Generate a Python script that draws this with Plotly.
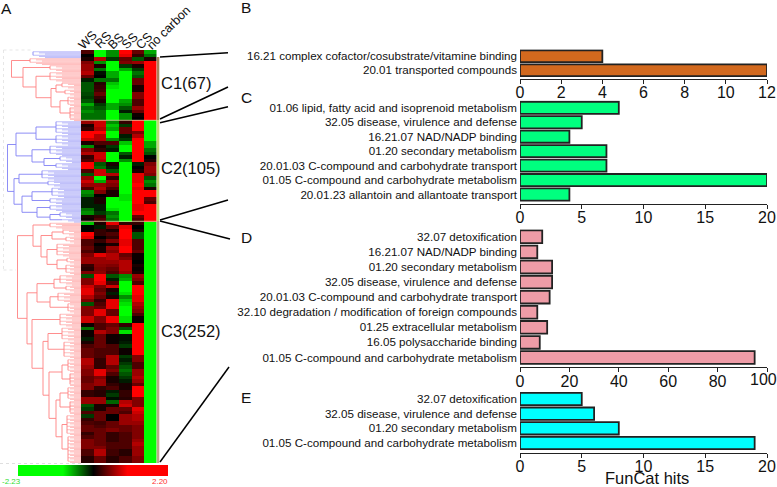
import plotly.graph_objects as go

W, H = 777, 487
FONT = "Liberation Sans"

conditions = ["WS", "RS", "BS", "SS", "CS", "no carbon"]
heat_rows_top = [
    [.3,-1,-.5,1,.4,-.6], [.0,-.9,-.5,.9,.2,-.4],
]
heat_rows_c1 = [
    [.1,.7,-.2,.4,-.3,.1], [.5,-.5,-1,.5,.6,1], [.6,.1,-1,-.2,.1,1], [.6,-.4,-1,-.6,-.2,1],
    [.7,-.05,-.6,-1,-.4,1], [.4,.0,-.6,-1,-.3,1], [-.1,-.4,-.4,-1,.4,1], [-.3,.15,-.7,-1,.4,1],
    [-.3,.2,-.8,-1,.1,1], [-.3,.25,-.9,-.9,.1,1], [-.25,.4,-1,-.9,.5,1], [-.2,.2,-1,-.9,.5,1],
    [-.3,.1,-.9,-.6,.3,1], [-.6,-.2,-.6,-.5,.3,1], [-.4,-.3,-.6,-.3,.6,1], [-.5,-.4,-.9,-.1,.4,1],
    [-.4,-.4,-.9,-.5,.05,1], [-.4,-.4,-.9,-.5,.0,1],
]
heat_rows_c2 = [
    [.6,.8,-.5,.2,1,-1], [.1,.8,-.7,-.2,1,-1], [.2,.7,-.6,.4,1,-1], [1,1,-1,.4,.5,-1],
    [1,.7,-1,-.1,.7,-1], [.8,.7,-.5,-.2,1,-1], [.1,.3,.3,-.7,1,-.6], [-.5,.1,-.2,-.9,1,-.6],
    [.5,.2,-.1,-.9,1,-.4], [.7,.8,-1,-.3,1,-.3], [.2,.8,-1,-.1,1,.0], [.3,.7,-1,-.5,1,.1],
    [1,-.3,.1,-1,-.1,.5], [1,-.4,-.1,-1,.0,.6], [.3,.8,-.3,-1,.1,.6], [-.3,.8,.7,-1,.9,.5],
    [.6,-1,.2,-1,.9,-.3], [.8,-.6,.6,-1,.9,-.5], [.6,.6,.5,-1,1,-.4], [.3,.7,.3,-1,.9,.1],
    [-.5,.5,.1,-1,1,1], [-.4,.0,.1,-.8,1,1], [-.1,.1,-1,-.8,1,.4], [-.1,.1,-1,-1,1,.3],
    [-.1,-.1,-.9,-1,.9,1], [-.4,-.1,-.8,-1,.9,1], [-.5,-.2,-.4,-1,1,1], [.1,.2,-.5,-1,.4,1],
    [.05,.3,-.4,-1,.3,1],
]
heat_rows_c3 = [
    [-.7,.1,.9,.2,.2,-1], [.0,-.1,.4,.9,.0,-1], [.0,.2,.1,1,.1,-1], [1,.2,.3,1,-.3,-1],
    [.9,.0,.2,1,-.3,-1], [.3,.2,.5,.9,.3,-1], [.3,.0,.1,.9,.3,-1], [.4,.1,.6,1,.3,-1],
    [.3,.1,.5,1,.4,-1], [.5,.9,.7,.4,.05,-1], [.6,.6,.7,.5,.05,-1], [.6,.6,.6,.7,.0,-1],
    [.2,.55,.5,.7,.1,-1], [.15,.5,.4,.7,.05,-1], [.5,.55,.3,.6,.1,-1], [-.3,1,-.3,-.5,.6,-1],
    [.5,1,-.1,-.6,.5,-1], [.5,.9,.3,-1,.3,-1], [.8,.5,.8,-1,1,-1], [.9,.4,.1,-.9,1,-1],
    [.9,.5,-.1,-.8,1,-1], [.7,.4,.1,-.5,.9,-1], [.5,.2,.9,-.7,.9,-1], [-.3,.3,.9,-.8,.7,-1],
    [.5,.4,.9,-.9,.6,-1], [.5,.9,.4,-1,.5,-1], [.5,.9,.4,-1,.3,-1], [.8,.5,.95,-.8,.05,-1],
    [.8,.5,.95,-.8,.05,-1], [.05,.3,.4,.2,1,-1], [-.4,.3,.5,-.3,1,-1], [.05,.7,.5,-.8,1,-1],
    [.05,.4,.05,-.05,1,-1], [-.1,.4,.05,-.05,1,-1], [.1,.4,.05,-.1,1,-1], [.3,.4,.3,-.2,1,-1],
    [.4,.3,.3,.05,1,-1], [.4,.3,.3,.05,1,-1], [.4,.3,.7,-.2,.5,-1], [.7,.2,.7,-.1,.5,-1],
    [.7,.2,.7,-.2,.3,-1], [.6,.2,.4,-.3,.3,-1], [.5,.9,.5,-.4,.6,-1], [.5,.9,.3,-.3,.6,-1],
    [.4,.5,.1,-.2,.7,-1], [.4,.6,.1,-.1,.6,-1], [.5,.6,.2,.1,.4,-1], [.5,.2,.3,.1,1,-1],
    [.2,.15,-.1,.2,1,-1], [.2,.15,-.2,.2,1,-1], [.6,.6,-.05,.15,.5,-1], [.6,.6,-.35,.7,.5,-1],
    [-.3,.1,.1,.8,.5,-1], [-.2,.1,.4,.4,.9,-1], [.3,.4,.4,.3,.8,-1], [-.2,.4,.0,.6,.7,-1],
    [.2,.4,.0,.6,.7,-1], [.3,.25,.4,.6,.6,-1], [.4,.3,.4,.4,.5,-1], [.4,.4,.5,.4,.5,-1],
    [.2,.4,.2,.3,.5,-1], [.3,.4,.2,.3,.5,-1], [.5,.4,.2,.3,.6,-1], [.5,.4,.3,.3,.7,-1],
    [.5,.5,.3,.3,.6,-1], [.3,.7,.25,.15,.6,-1], [.3,.7,.25,.15,.6,-1], [.15,.4,.15,.3,.5,-1],
    [.15,.4,.15,.3,.5,-1],
]
heat_rows = heat_rows_top + heat_rows_c1 + heat_rows_c2 + heat_rows_c3
color_min, color_max = -2.23, 2.20
color_sat_green, color_sat_red = -0.9, 1.0

labels_b = ["16.21 complex cofactor/cosubstrate/vitamine binding", "20.01 transported compounds"]
values_b = [4, 12]
labels_c = ["01.06 lipid, fatty acid and isoprenoid metabolism", "32.05 disease, virulence and defense",
            "16.21.07 NAD/NADP binding", "01.20 secondary metabolism",
            "20.01.03 C-compound and carbohydrate transport", "01.05 C-compound and carbohydrate metabolism",
            "20.01.23 allantoin and allantoate transport"]
values_c = [8, 5, 4, 7, 7, 20, 4]
labels_d = ["32.07 detoxification", "16.21.07 NAD/NADP binding", "01.20 secondary metabolism",
            "32.05 disease, virulence and defense", "20.01.03 C-compound and carbohydrate transport",
            "32.10 degradation / modification of foreign compounds", "01.25 extracellular metabolism",
            "16.05 polysaccharide binding", "01.05 C-compound and carbohydrate metabolism"]
values_d = [9, 7, 13, 13, 12, 7, 11, 8, 95]
labels_e = ["32.07 detoxification", "32.05 disease, virulence and defense", "01.20 secondary metabolism",
            "01.05 C-compound and carbohydrate metabolism"]
values_e = [5, 6, 8, 19]


# dendrogram: N(distance, upper, lower) joins two branches, F(distance, first_row, last_row) is a leaf fan
def N(x, a, b): return ("n", x, a, b)
def F(x, r0, r1): return ("f", x, r0, r1)

tree_top = F(33, 0, 1)
tree_c1 = N(11.5, F(30, 2, 3), N(23, F(50, 4, 5), N(36, F(50, 6, 8),
            N(51, N(56, F(62, 9, 10), F(65, 11, 12)), N(60, F(68, 13, 15), F(70, 16, 19))))))
tree_c2 = N(7.5,
            N(16, N(36, F(56, 20, 23), F(56, 24, 26)),
                  N(32, F(50, 27, 29), N(44, F(60, 30, 31), F(56, 32, 33)))),
            N(14, N(19, F(42, 34, 36), F(48, 37, 38)),
                  N(22, N(32, F(52, 39, 41), F(50, 42, 43)),
                        N(37, F(50, 44, 45), N(50, F(60, 46, 47), F(62, 48, 48))))))
tree_c3 = N(17.5,
            N(33, F(50, 49, 50),
                  N(41, N(52, F(63, 51, 52), F(66, 53, 54)),
                        N(47, F(57, 55, 58), N(57, F(67, 59, 60), F(66, 61, 63))))),
            N(27,
              N(37, N(54, F(60, 64, 66), F(66, 67, 68)), N(50, F(58, 69, 71), F(68, 72, 74))),
              N(32, F(60, 75, 78),
                N(43, N(48, F(62, 79, 82), F(64, 83, 87)),
                  N(49, N(62, F(68, 88, 91), F(70, 92, 95)),
                    N(56, N(60, F(68, 96, 99), F(70, 100, 103)),
                      N(62, F(67, 104, 109), F(68, 110, 117))))))))

DENDRO_END = 81
def walk(node, xs, ys, fxs, fys):
    if node[0] == "f":
        _, x, r0, r1 = node
        xs += [x, x, None]; ys += [r0, r1, None]
        r = r0
        while r <= r1:
            fxs += [x, DENDRO_END, None]; fys += [r, r, None]
            fxs += [min(x + 6, 70), DENDRO_END, None]; fys += [r + .33, r + .33, None]
            fxs += [min(x + 12, 74), DENDRO_END, None]; fys += [r + .66, r + .66, None]
            r += 1
        return x, (r0 + r1) / 2
    _, x, a, b = node
    ax, ay = walk(a, xs, ys, fxs, fys)
    bx, by = walk(b, xs, ys, fxs, fys)
    xs += [x, x, None, x, ax, None, x, bx, None]
    ys += [ay, by, None, ay, ay, None, by, by, None]
    return x, (ay + by) / 2


def px_x(a, b): return [a / W, b / W]
def px_y(top, bottom): return [1 - bottom / H, 1 - top / H]

fig = go.Figure()
layout = dict(width=W, height=H, margin=dict(l=0, r=0, t=0, b=0, autoexpand=False), showlegend=False,
              plot_bgcolor="white", paper_bgcolor="white",
              font=dict(family=FONT, color="#111", size=12),
              bargap=0.16)

# heat map
nrows = len(heat_rows)
pos = lambda v: (v - color_min) / (color_max - color_min)
fig.add_trace(go.Heatmap(
    z=heat_rows, x=conditions, y=list(range(nrows)), xaxis="x", yaxis="y",
    zmin=color_min, zmax=color_max, hoverinfo="skip",
    colorscale=[[0, "#00ff00"], [pos(color_sat_green), "#00ff00"], [pos(0), "#000000"],
                [pos(color_sat_red), "#ff0000"], [1, "#ff0000"]],
    colorbar=dict(orientation="h", x=18 / W, xanchor="left", len=150 / W, lenmode="fraction",
                  y=1 - 476 / H, yanchor="bottom", thickness=11, thicknessmode="pixels",
                  outlinewidth=0, showticklabels=False, ticks="", xpad=0, ypad=0)))
layout["xaxis"] = dict(domain=px_x(81, 156.5), showticklabels=False, ticks="", showgrid=False,
                       zeroline=False, anchor="y", showline=False)
layout["yaxis"] = dict(domain=px_y(50, 463), range=[nrows - .5, -.5], showticklabels=False, ticks="",
                       showgrid=False, zeroline=False, anchor="x", showline=False)

# dendrogram
layout["xaxis6"] = dict(domain=px_x(0, 81), range=[0, 81], visible=False, anchor="y6")
layout["yaxis6"] = dict(domain=px_y(50, 463), range=[nrows - .5, -.5], visible=False, anchor="x6")
for trees, col, fan in [([tree_c1, tree_c3], "rgba(255,130,130,0.9)", "rgba(255,90,90,0.4)"),
                        ([tree_top, tree_c2], "rgba(130,130,245,0.9)", "rgba(90,90,240,0.4)")]:
    xs, ys, fxs, fys = [], [], [], []
    for t in trees:
        walk(t, xs, ys, fxs, fys)
    fig.add_trace(go.Scatter(x=fxs, y=fys, xaxis="x6", yaxis="y6", mode="lines",
                             line=dict(color=fan, width=1), hoverinfo="skip"))
    fig.add_trace(go.Scatter(x=xs, y=ys, xaxis="x6", yaxis="y6", mode="lines",
                             line=dict(color=col, width=1), hoverinfo="skip"))

# bar panels
panels = [
    (labels_b, values_b, "#d2691e", "2", 56.3, 70.2, 79, 12, 2),
    (labels_c, values_c, "#00ff7f", "3", 107.8, 194.5, 204, 20, 5),
    (labels_d, values_d, "#ee9ca7", "4", 236.8, 357.5, 367.3, 100, 20),
    (labels_e, values_e, "#00ffff", "5", 399, 443, 452.7, 20, 5),
]
for labs, vals, color, k, c0, c1, axis_y, xmax, dtick in panels:
    pitch = (c1 - c0) / (len(labs) - 1)
    fig.add_trace(go.Bar(x=vals, y=labs, orientation="h", xaxis="x" + k, yaxis="y" + k,
                         marker=dict(color=color, line=dict(color="#222", width=1.8)), hoverinfo="skip"))
    tickvals = list(range(0, xmax + 1, dtick))
    # the last label of panel D would run past the page edge, so it is set right-aligned below
    ticktext = [("" if v >= 100 else str(v)) for v in tickvals]
    layout["xaxis" + k] = dict(domain=px_x(520, 767), range=[0, xmax], tickmode="array", tickvals=tickvals,
                               ticktext=ticktext, anchor="y" + k,
                               showgrid=False, zeroline=False, showline=True, linecolor="#222", linewidth=1.2,
                               ticks="outside", ticklen=4, tickwidth=1.2, tickcolor="#222",
                               ticklabelstandoff=-5, ticklabeloverflow="allow",
                               tickfont=dict(size=16, color="#111"))
    layout["yaxis" + k] = dict(domain=px_y(c0 - pitch / 2, axis_y), anchor="x" + k, type="category",
                               categoryorder="array", categoryarray=labs, dtick=1,
                               range=[(axis_y - c0) / pitch, -.5], showgrid=False, zeroline=False,
                               ticks="", showline=False, ticklabelstandoff=2,
                               tickfont=dict(size=11.6, color="#111"))

# side strips and connectors
shapes = []
def seg(x0, y0, x1, y1, color="black", width=1.5, dash="solid"):
    shapes.append(dict(type="line", xref="paper", yref="paper", x0=x0 / W, x1=x1 / W,
                       y0=1 - y0 / H, y1=1 - y1 / H, line=dict(color=color, width=width, dash=dash)))
for top, bottom, col in [(57, 120, "#a98258"), (120, 221, "#c4d678"), (221, 463, "#b9a78c")]:
    shapes.append(dict(type="rect", xref="paper", yref="paper", x0=156.8 / W, x1=159.3 / W,
                       y0=1 - bottom / H, y1=1 - top / H, fillcolor=col, line=dict(width=0)))
for c in [(160, 57, 228, 52.7), (160, 119, 228, 87), (160, 122.7, 228, 106.7),
          (160, 220, 228, 200), (160, 221, 230, 239), (160, 462, 229, 367)]:
    seg(*c)
seg(81, 120.3, 157, 120.3, "rgba(225,215,170,0.8)", 1)
seg(81, 221.3, 157, 221.3, "rgba(225,215,170,0.8)", 1)
seg(3.5, 50, 3.5, 270, "rgba(215,215,215,0.6)", 1, "dot")
seg(3.5, 270, 16, 270, "rgba(215,215,215,0.6)", 1, "dot")
seg(3.5, 50, 33, 50, "rgba(215,215,215,0.6)", 1, "dot")
seg(0, 463.5, 81, 463.5, "rgba(215,215,215,0.8)", 1, "dot")
layout["shapes"] = shapes

# texts
ann = []
def txt(x, y, s, size, color="#111", anchor="left", angle=0, va="middle"):
    ann.append(dict(xref="paper", yref="paper", x=x / W, y=1 - y / H, text=s, showarrow=False,
                    font=dict(size=size, color=color, family=FONT), xanchor=anchor, yanchor=va,
                    textangle=angle, borderpad=0, borderwidth=0))
for s, x, y in [("A", 1, 8), ("B", 241, 7), ("C", 241, 98), ("D", 241, 237), ("E", 241, 397)]:
    txt(x, y, s, 15.5)
for s, y in [("C1(67)", 83), ("C2(105)", 168), ("C3(252)", 331)]:
    txt(161, y, s, 16.5)
for s, x0, x1, y0, y1 in [("WS", 79, 97, 33, 48), ("RS", 97, 110, 33, 48), ("BS", 109, 124, 35, 48),
                          ("SS", 123, 137, 35, 48), ("CS", 137, 152, 35, 48), ("no carbon", 148, 189, 8, 48)]:
    txt((x0 + x1) / 2, (y0 + y1) / 2, s, 12.5, anchor="center", angle=-45)
txt(2, 481, "-2.23", 8, color="#33dd33")
txt(168, 481, "2.20", 8, color="#ff3030", anchor="right")
txt(777, 379.5, "100", 16, anchor="right")
txt(647, 478, "FunCat hits", 16.5, anchor="center")
layout["annotations"] = ann

fig.update_layout(**layout)
fig.write_html("out.html", config=dict(displayModeBar=False),
               post_script="document.body.style.margin='0';document.documentElement.style.overflow='hidden';")
